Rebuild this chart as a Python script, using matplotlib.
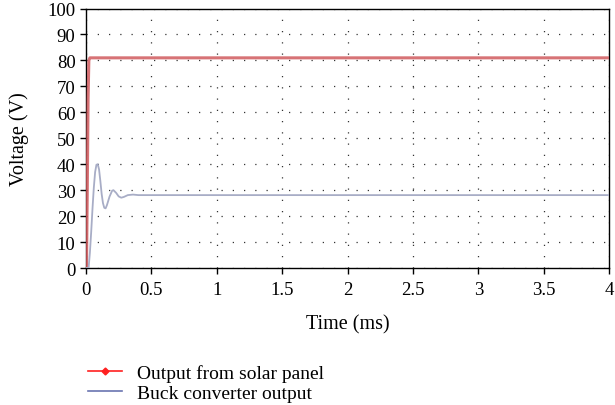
import numpy as np
import matplotlib.pyplot as plt
from matplotlib.lines import Line2D

# solar panel output (V) vs time (ms)
t_panel = [0.0, 0.004, 0.010, 0.016, 0.022, 0.03, 4.0]
v_panel = [0.0, 0.0, 30.0, 65.0, 80.0, 81.0, 81.0]

# buck converter output (V) vs time (ms)
t_buck = [0.0, 0.02, 0.03, 0.04, 0.05, 0.06, 0.07, 0.08, 0.09, 0.10, 0.11,
          0.12, 0.13, 0.14, 0.15, 0.16, 0.18, 0.20, 0.21, 0.23, 0.25,
          0.27, 0.29, 0.32, 0.36, 0.40, 4.0]
v_buck = [0.0, 0.0, 6.0, 14.0, 23.0, 31.0, 37.0, 39.8, 40.0, 38.0, 33.5,
          28.5, 25.0, 23.2, 23.0, 24.2, 27.5, 29.8, 30.0, 29.0, 27.6,
          27.1, 27.4, 28.1, 28.3, 28.1, 28.1]

xticks = [0, 0.5, 1, 1.5, 2, 2.5, 3, 3.5, 4]
xlabels = ['0', '0.5', '1', '1.5', '2', '2.5', '3', '3.5', '4']
yticks = list(range(0, 101, 10))

plt.rcParams['font.family'] = ['Liberation Serif', 'DejaVu Serif']

fig = plt.figure(figsize=(6.15, 4.06), dpi=100)
ax = fig.add_axes([0.1398, 0.3374, 0.8505, 0.6391])

ax.plot(t_panel, v_panel, color='#d05a5e', lw=2.2, alpha=0.85, zorder=3)
ax.plot(t_buck, v_buck, color='#a8adc6', lw=1.3, zorder=3)

ax.set_xlim(0, 4)
ax.set_ylim(0, 100)
ax.set_xticks(xticks)
ax.set_xticklabels(xlabels)
ax.set_yticks(yticks)
ax.grid(True, color='#333333', linestyle=(0, (1, 8)), linewidth=0.9)
ax.tick_params(direction='out', length=4, width=1, labelsize=13.5, colors='black')
ax.tick_params(axis='x', pad=5)
for s in ax.spines.values():
    s.set_linewidth(1.0)

ax.set_xlabel('Time (ms)', fontsize=14.5, labelpad=12)
ax.set_ylabel('Voltage (V)', fontsize=14.5, labelpad=13)

handles = [Line2D([], [], color='#ff2020', lw=1.2, marker='D', markersize=3.5),
           Line2D([], [], color='#6a74b0', lw=1.2)]
fig.legend(handles, ['Output from solar panel', 'Buck converter output'],
           loc='lower left', bbox_to_anchor=(0.143, 0.008), frameon=False,
           borderpad=0, borderaxespad=0,
           fontsize=14, handlelength=1.75, handletextpad=0.75, labelspacing=0.1)

fig.savefig('out.png', dpi=100)
